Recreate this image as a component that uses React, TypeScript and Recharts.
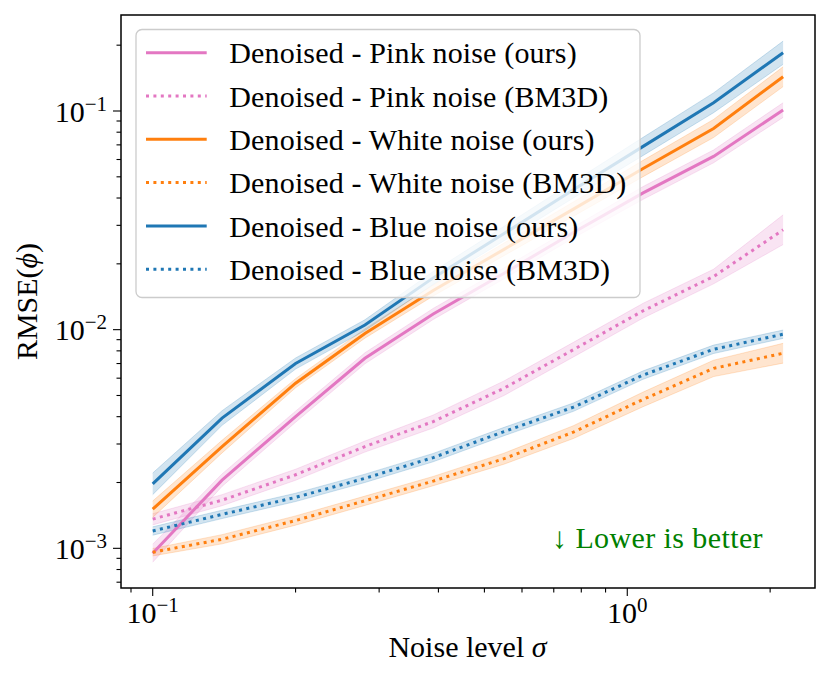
import { ComposedChart, Line, Area, XAxis, YAxis } from "recharts";

const sigma = [0.1, 0.14, 0.2, 0.28, 0.39, 0.55, 0.77, 1.08, 1.52, 2.13];

const pinkOurs = [0.00095, 0.00205, 0.004, 0.0074, 0.0118, 0.0181, 0.0278, 0.0422, 0.062, 0.101];
const pinkOursLo = [0.000864, 0.00192, 0.00377, 0.00698, 0.01113, 0.01708, 0.02623, 0.03944, 0.05794, 0.0935];
const pinkOursHi = [0.001045, 0.00219, 0.00424, 0.00784, 0.01251, 0.01919, 0.02947, 0.04515, 0.06634, 0.1091];

const pinkBm3d = [0.00136, 0.00166, 0.00217, 0.00292, 0.0038, 0.0054, 0.0081, 0.0122, 0.0175, 0.0286];
const pinkBm3dLo = [0.00128, 0.001566, 0.002047, 0.002755, 0.00355, 0.005, 0.0075, 0.0113, 0.0162, 0.0245];
const pinkBm3dHi = [0.00144, 0.00176, 0.0023, 0.003095, 0.00407, 0.00583, 0.00875, 0.0132, 0.0189, 0.0335];

const whiteOurs = [0.00151, 0.00292, 0.00569, 0.0096, 0.0151, 0.0233, 0.0356, 0.0546, 0.0832, 0.1435];
const whiteOursLo = [0.001385, 0.00273, 0.00542, 0.00914, 0.01425, 0.0218, 0.033, 0.0501, 0.0756, 0.1293];
const whiteOursHi = [0.001646, 0.00312, 0.00597, 0.01008, 0.016, 0.0249, 0.0384, 0.0595, 0.0915, 0.1593];

const whiteBm3d = [0.00096, 0.0011, 0.00134, 0.00165, 0.00203, 0.00257, 0.0034, 0.0048, 0.00665, 0.0078];
const whiteBm3dLo = [0.000923, 0.001048, 0.001276, 0.001571, 0.001933, 0.002425, 0.003178, 0.004444, 0.0061, 0.00703];
const whiteBm3dHi = [0.000998, 0.001155, 0.001407, 0.001733, 0.002132, 0.002724, 0.003638, 0.005184, 0.00725, 0.00866];

const blueOurs = [0.00197, 0.00394, 0.007, 0.0105, 0.01725, 0.0275, 0.0436, 0.0689, 0.109, 0.1848];
const blueOursLo = [0.00176, 0.00365, 0.0066, 0.0099, 0.0161, 0.0255, 0.04, 0.0626, 0.0982, 0.1635];
const blueOursHi = [0.00221, 0.00426, 0.00742, 0.0111, 0.01846, 0.0297, 0.0475, 0.0758, 0.121, 0.2088];

const blueBm3d = [0.0012, 0.00143, 0.00171, 0.00209, 0.0026, 0.00342, 0.00442, 0.0062, 0.00813, 0.00953];
const blueBm3dLo = [0.001148, 0.001368, 0.001636, 0.002, 0.002488, 0.003273, 0.00423, 0.00593, 0.00778, 0.00912];
const blueBm3dHi = [0.001254, 0.001494, 0.001787, 0.002184, 0.002717, 0.003574, 0.00462, 0.00648, 0.0085, 0.00996];

const xTicks = [0.09, 0.1, 0.2, 0.3, 0.4, 0.5, 0.6, 0.7, 0.8, 0.9, 1, 2];
const xMajor = [0.1, 1];
const yTicks = [
    0.0007, 0.0008, 0.0009, 0.001, 0.002, 0.003, 0.004, 0.005, 0.006, 0.007, 0.008, 0.009,
    0.01, 0.02, 0.03, 0.04, 0.05, 0.06, 0.07, 0.08, 0.09, 0.1, 0.2,
];
const yMajor = [0.001, 0.01, 0.1];

const PINK = "#e377c2";
const ORANGE = "#ff7f0e";
const BLUE = "#1f77b4";
const FONT = "'Liberation Serif', 'Times New Roman', serif";

const series = [
    { key: "pinkOurs", name: "Denoised - Pink noise (ours)", color: PINK, dotted: false, mean: pinkOurs, lo: pinkOursLo, hi: pinkOursHi },
    { key: "pinkBm3d", name: "Denoised - Pink noise (BM3D)", color: PINK, dotted: true, mean: pinkBm3d, lo: pinkBm3dLo, hi: pinkBm3dHi },
    { key: "whiteOurs", name: "Denoised - White noise (ours)", color: ORANGE, dotted: false, mean: whiteOurs, lo: whiteOursLo, hi: whiteOursHi },
    { key: "whiteBm3d", name: "Denoised - White noise (BM3D)", color: ORANGE, dotted: true, mean: whiteBm3d, lo: whiteBm3dLo, hi: whiteBm3dHi },
    { key: "blueOurs", name: "Denoised - Blue noise (ours)", color: BLUE, dotted: false, mean: blueOurs, lo: blueOursLo, hi: blueOursHi },
    { key: "blueBm3d", name: "Denoised - Blue noise (BM3D)", color: BLUE, dotted: true, mean: blueBm3d, lo: blueBm3dLo, hi: blueBm3dHi },
];

const data = sigma.map((s, i) => {
    const row: Record<string, number | number[]> = { sigma: s };
    series.forEach((sr) => {
        row[sr.key] = sr.mean[i];
        row[sr.key + "Band"] = [sr.lo[i], sr.hi[i]];
    });
    return row;
});

const DASH = "3 4.4";

const expLabel = (v: number) => {
    const e = Math.round(Math.log10(v));
    return e < 0 ? "\u2212" + Math.abs(e) : String(e);
};

const XTick = (props: any) => {
    const { x, y, payload } = props;
    const major = xMajor.includes(payload.value);
    return (
        <g>
            <line x1={x} x2={x} y1={y} y2={y + (major ? 8 : 4.5)} stroke="#000" strokeWidth={1.1} />
            {major && (
                <text x={x} y={y + 35} textAnchor="middle" fontFamily={FONT} fontSize={30} fill="#000">
                    10
                    <tspan dy={-11} fontSize={21}>
                        {expLabel(payload.value)}
                    </tspan>
                </text>
            )}
        </g>
    );
};

const YTick = (props: any) => {
    const { x, y, payload } = props;
    const major = yMajor.includes(payload.value);
    return (
        <g>
            <line x1={x - (major ? 8 : 4.5)} x2={x} y1={y} y2={y} stroke="#000" strokeWidth={1.1} />
            {major && (
                <text x={x - 14} y={y + 10.7} textAnchor="end" fontFamily={FONT} fontSize={30} fill="#000">
                    10
                    <tspan dy={-11} fontSize={21}>
                        {expLabel(payload.value)}
                    </tspan>
                </text>
            )}
        </g>
    );
};

const Overlay = () => (
    <svg
        width={830}
        height={678}
        style={{ position: "absolute", left: 0, top: 0, pointerEvents: "none" }}
        fontFamily={FONT}
    >
        {/* axes frame */}
        <rect x={121} y={15} width={694} height={573} fill="none" stroke="#000" strokeWidth={1.5} />

        {/* legend */}
        <rect x={136} y={29.5} width={504} height={268} rx={6} fill="#fff" fillOpacity={0.8} stroke="#cccccc" strokeWidth={1.3} />
        {series.map((sr, i) => {
            const cy = 52.7 + i * 43.3;
            return (
                <g key={sr.key}>
                    <line
                        x1={146}
                        x2={206.7}
                        y1={cy}
                        y2={cy}
                        stroke={sr.color}
                        strokeWidth={3}
                        strokeDasharray={sr.dotted ? DASH : undefined}
                    />
                    <text x={229.3} y={cy + 10.6} fontSize={30} letterSpacing={0.15} fill="#000">
                        {sr.name}
                    </text>
                </g>
            );
        })}

        {/* axis titles */}
        <text x={467.5} y={656.7} textAnchor="middle" fontSize={30} fill="#000">
            Noise level <tspan fontStyle="italic">σ</tspan>
        </text>
        <text transform="translate(37,301.5) rotate(-90)" textAnchor="middle" fontSize={30} fill="#000">
            RMSE(<tspan fontStyle="italic">ϕ</tspan>)
        </text>

        {/* annotation */}
        <text x={763} y={548.3} textAnchor="end" fontSize={30} letterSpacing={0.4} fill="#008000">
            ↓ Lower is better
        </text>
    </svg>
);

export default function App() {
    return (
        <div style={{ position: "absolute", left: 0, top: 0, width: 830, height: 678, background: "#fff" }}>
            <ComposedChart
                width={830}
                height={678}
                data={data}
                margin={{ top: 15, right: 15, bottom: 0, left: 0 }}
            >
                <XAxis
                    dataKey="sigma"
                    type="number"
                    scale="log"
                    domain={[0.08574, 2.4864]}
                    allowDataOverflow
                    ticks={xTicks}
                    interval={0}
                    height={90}
                    axisLine={false}
                    tickLine={false}
                    tickSize={0}
                    tickMargin={0}
                    tick={<XTick />}
                />
                <YAxis
                    type="number"
                    scale="log"
                    domain={[0.0006585, 0.2748]}
                    allowDataOverflow
                    ticks={yTicks}
                    interval={0}
                    width={121}
                    axisLine={false}
                    tickLine={false}
                    tickSize={0}
                    tickMargin={0}
                    tick={<YTick />}
                />
                {series.map((sr) => (
                    <Area
                        key={sr.key + "Band"}
                        type="linear"
                        dataKey={sr.key + "Band"}
                        fill={sr.color}
                        fillOpacity={0.2}
                        stroke={sr.color}
                        strokeOpacity={0.2}
                        strokeWidth={1}
                        isAnimationActive={false}
                        activeDot={false}
                        dot={false}
                    />
                ))}
                {series.map((sr) => (
                    <Line
                        key={sr.key}
                        type="linear"
                        dataKey={sr.key}
                        stroke={sr.color}
                        strokeWidth={3}
                        strokeDasharray={sr.dotted ? DASH : undefined}
                        dot={false}
                        activeDot={false}
                        isAnimationActive={false}
                    />
                ))}
            </ComposedChart>
            <Overlay />
        </div>
    );
}
